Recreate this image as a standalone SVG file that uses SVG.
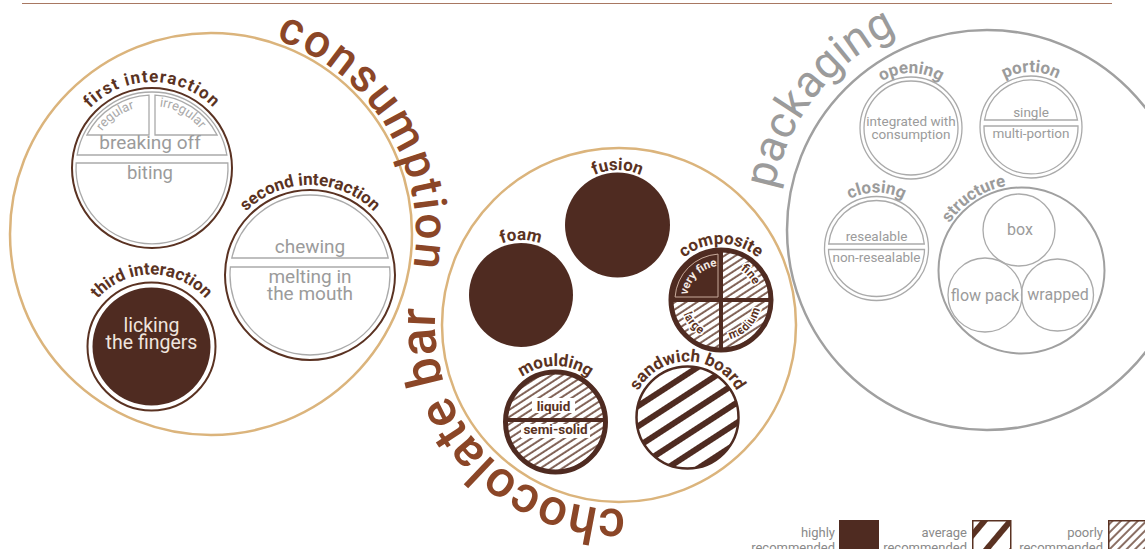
<svg xmlns="http://www.w3.org/2000/svg" width="1145" height="549" viewBox="0 0 1145 549">
<defs>
<style>
text{font-family:Roboto,"DejaVu Sans",sans-serif}
.lbl{font-weight:700;font-size:17px;fill:#5a3222}
.glbl{font-weight:700;font-size:17px;fill:#9b9b9b}
.big{font-weight:500;fill:#8b4627}
.gbig{font-weight:400;fill:#9b9b9b}
.gring{fill:none;stroke:#aaaaaa;stroke-width:1.3}
.gt{fill:#9b9b9b;text-anchor:middle}
.bring{fill:#fff;stroke:#5a3222;stroke-width:2}
.dark{fill:#4f2b21}
.mid{text-anchor:middle}
.leg{fill:#8a8a8a;font-size:13px;text-anchor:end}
.qt{font-weight:700;font-size:12px;fill:#5a3222;stroke:#fff;stroke-width:3;paint-order:stroke;text-anchor:middle}
</style>
<pattern id="hThin" width="6" height="6" patternUnits="userSpaceOnUse" patternTransform="rotate(-33)">
<rect width="6" height="6" fill="#fff"/>
<rect y="2.3" width="6" height="1.5" fill="#5a3222"/>
</pattern>
<pattern id="hThick" width="17" height="17" patternUnits="userSpaceOnUse" patternTransform="rotate(-33)">
<rect width="17" height="17" fill="#fff"/>
<rect y="5" width="17" height="6" fill="#4f2b21"/>
</pattern>
<pattern id="legThick" width="20" height="20" patternUnits="userSpaceOnUse" patternTransform="translate(972 520) rotate(-50)">
<rect width="20" height="20" fill="#fff"/>
<rect y="7" width="20" height="6" fill="#5a3222"/>
</pattern>
<pattern id="legThin" width="6" height="6" patternUnits="userSpaceOnUse" patternTransform="rotate(-45)">
<rect width="6" height="6" fill="#fff"/>
<rect y="2.3" width="6" height="1.4" fill="#5a3222"/>
</pattern>
<path id="arcCons" d="M 275.4 39.4 A 205 205 0 0 1 388.5 336.5"/>
<path id="arcChoc" d="M 625.4 508.9 A 184 184 0 0 1 459.7 233"/>
<path id="arcPack" d="M 773.8 189.3 A 217 217 0 0 1 987 13"/>
<path id="aFirst" d="M 66 168 A 86 86 0 0 1 238 168"/>
<path id="aSecond" d="M 220 275 A 90 90 0 0 1 400 275"/>
<path id="aThird" d="M 79.5 346.5 A 72 72 0 0 1 223.5 346.5"/>
<path id="aReg" d="M 92.1 152 A 62 62 0 0 1 157.4 106.2"/>
<path id="aIrr" d="M 140.2 107.1 A 62 62 0 0 1 209.9 145.8"/>
<path id="aFusion" d="M 562.5 225 A 55 55 0 0 1 672.5 225"/>
<path id="aFoam" d="M 466 295 A 55 55 0 0 1 576 295"/>
<path id="aComp" d="M 665 300 A 56 56 0 0 1 777 300"/>
<path id="aMould" d="M 499.5 422 A 56 56 0 0 1 611.5 422"/>
<path id="aSand" d="M 631.5 417.5 A 56 56 0 0 1 743.5 417.5"/>
<path id="aVF" d="M 688 308.3 A 34 34 0 0 1 730.4 267.3"/>
<path id="aFine" d="M 714.1 264.7 A 36 36 0 0 1 755 311.7"/>
<path id="aLarge" d="M 683.4 286.3 A 40 40 0 0 0 727.9 339.4"/>
<path id="aMed" d="M 710.6 338.6 A 40 40 0 0 0 759.6 289.6"/>
<path id="aOpen" d="M 856 128 A 55 55 0 0 1 966 128"/>
<path id="aPort" d="M 976 127 A 55 55 0 0 1 1086 127"/>
<path id="aClose" d="M 820.5 248.5 A 56 56 0 0 1 932.5 248.5"/>
<path id="aStruct" d="M 948.95 318.5 A 87 87 0 0 1 1094.05 222.5"/>
</defs>

<rect width="1145" height="549" fill="#fff"/>
<line x1="22" y1="3.5" x2="1112" y2="3.5" stroke="#a87862" stroke-width="1.2"/>

<g id="connectors"></g>

<g id="consumption">
<circle cx="211" cy="234" r="201" fill="none" stroke="#dbb47c" stroke-width="2.5"/>
<text class="big" font-size="46" letter-spacing="2"><textPath href="#arcCons">consumption</textPath></text>
</g>

<g id="first-interaction">
<circle cx="152" cy="168" r="80" class="bring"/>
<path class="gring" d="M 77.12 155 A 76 76 0 0 1 226.88 155 Z"/>
<path class="gring" d="M 76.16 163 A 76 76 0 1 0 227.84 163 Z"/>
<path class="gring" d="M 86.9 135 A 73 73 0 0 1 149 95.06 L 149 135 Z"/>
<path class="gring" d="M 155 95.06 A 73 73 0 0 1 217.1 135 L 155 135 Z"/>
<text font-size="13" fill="#aaa" text-anchor="middle"><textPath href="#aReg" startOffset="50%">regular</textPath></text>
<text font-size="13" fill="#aaa" text-anchor="middle"><textPath href="#aIrr" startOffset="50%">irregular</textPath></text>
<text x="150" y="149" class="gt" font-size="19">breaking off</text>
<text x="150" y="179" class="gt" font-size="18.5">biting</text>
<text class="lbl" letter-spacing="1.2" text-anchor="middle"><textPath href="#aFirst" startOffset="50%">first interaction</textPath></text>
</g>

<g id="second-interaction">
<circle cx="310" cy="275" r="85" class="bring"/>
<path class="gring" d="M 231.83 258 A 80 80 0 0 1 388.17 258 Z"/>
<path class="gring" d="M 230.4 267 A 80 80 0 1 0 389.6 267 Z"/>
<text x="310" y="253" class="gt" font-size="19">chewing</text>
<text x="310" y="283" class="gt" font-size="19">melting in</text>
<text x="310" y="300" class="gt" font-size="19">the mouth</text>
<text class="lbl" text-anchor="middle"><textPath href="#aSecond" startOffset="50%">second interaction</textPath></text>
</g>

<g id="third-interaction">
<circle cx="151.5" cy="346.5" r="64" class="bring"/>
<circle cx="151.5" cy="346.5" r="59" class="dark"/>
<text x="151.5" y="332" class="mid" font-size="19.5" fill="#efe4de">licking</text>
<text x="151.5" y="349" class="mid" font-size="19.5" fill="#efe4de">the fingers</text>
<text class="lbl" text-anchor="middle"><textPath href="#aThird" startOffset="50%">third interaction</textPath></text>
</g>

<g id="chocolate-bar">
<circle cx="619" cy="325" r="177" fill="none" stroke="#dbb47c" stroke-width="2.5"/>
<text class="big" font-size="51"><textPath href="#arcChoc">chocolate bar</textPath></text>
</g>

<g id="fusion">
<circle cx="617.5" cy="225" r="52.5" class="dark"/>
<text class="lbl" text-anchor="middle"><textPath href="#aFusion" startOffset="50%">fusion</textPath></text>
</g>

<g id="foam">
<circle cx="521" cy="295" r="52" class="dark"/>
<text class="lbl" text-anchor="middle"><textPath href="#aFoam" startOffset="50%">foam</textPath></text>
</g>

<g id="composite">
<circle cx="721" cy="300" r="50" fill="url(#hThin)"/>
<path d="M 721 300 L 671 300 A 50 50 0 0 1 721 250 Z" class="dark"/>
<path d="M 718 297 L 675.1 297 A 46 46 0 0 1 718 254.1 Z" fill="none" stroke="#c9ab9c" stroke-width="1"/>
<text font-weight="700" font-size="11.5" fill="#f3e9e4" text-anchor="middle"><textPath href="#aVF" startOffset="50%">very fine</textPath></text>
<text class="qt"><textPath href="#aFine" startOffset="50%">fine</textPath></text>
<text class="qt"><textPath href="#aLarge" startOffset="50%">large</textPath></text>
<text class="qt"><textPath href="#aMed" startOffset="50%">medium</textPath></text>
<path d="M 671 300 H 771 M 721 250 V 350" stroke="#4f2b21" stroke-width="4"/>
<circle cx="721" cy="300" r="50" fill="none" stroke="#4f2b21" stroke-width="5"/>
<text class="lbl" text-anchor="middle"><textPath href="#aComp" startOffset="50%">composite</textPath></text>
</g>

<g id="moulding">
<circle cx="555.5" cy="422" r="50" fill="url(#hThin)"/>
<rect x="532" y="398" width="43" height="15" fill="#fff"/>
<rect x="521" y="424" width="69" height="14" fill="#fff"/>
<line x1="505.5" y1="420" x2="605.5" y2="420" stroke="#4f2b21" stroke-width="4"/>
<circle cx="555.5" cy="422" r="50" fill="none" stroke="#4f2b21" stroke-width="5"/>
<text x="553.5" y="410.5" class="mid" font-weight="700" font-size="13.5" fill="#5a3222">liquid</text>
<text x="555.5" y="434" class="mid" font-weight="700" font-size="13.5" fill="#5a3222">semi-solid</text>
<text class="lbl" text-anchor="middle"><textPath href="#aMould" startOffset="50%">moulding</textPath></text>
</g>

<g id="sandwich-board">
<circle cx="687.5" cy="417.5" r="51" fill="url(#hThick)" stroke="#4f2b21" stroke-width="2.5"/>
<text class="lbl" text-anchor="middle"><textPath href="#aSand" startOffset="50%">sandwich board</textPath></text>
</g>

<g id="packaging">
<circle cx="987" cy="230" r="200" fill="none" stroke="#a0a0a0" stroke-width="2.5"/>
<text class="gbig" font-size="45"><textPath href="#arcPack">packaging</textPath></text>
</g>

<g id="opening">
<circle cx="911" cy="128" r="51" class="gring"/>
<circle cx="911" cy="128" r="47" class="gring"/>
<text x="911" y="126" class="gt" font-size="13.5">integrated with</text>
<text x="911" y="139" class="gt" font-size="13.5">consumption</text>
<text class="glbl" text-anchor="middle"><textPath href="#aOpen" startOffset="50%">opening</textPath></text>
</g>

<g id="portion">
<circle cx="1031" cy="127" r="51" class="gring"/>
<path class="gring" d="M 984.52 120 A 47 47 0 0 1 1077.48 120 Z"/>
<path class="gring" d="M 984.01 126 A 47 47 0 1 0 1077.99 126 Z"/>
<text x="1031" y="117" class="gt" font-size="13.5">single</text>
<text x="1031" y="138" class="gt" font-size="13.5">multi-portion</text>
<text class="glbl" text-anchor="middle"><textPath href="#aPort" startOffset="50%">portion</textPath></text>
</g>

<g id="closing">
<circle cx="876.5" cy="248.5" r="52" class="gring"/>
<path class="gring" d="M 828.71 244 A 48 48 0 0 1 924.29 244 Z"/>
<path class="gring" d="M 828.51 249.5 A 48 48 0 0 0 924.49 249.5 Z"/>
<text x="876.5" y="241" class="gt" font-size="13.5">resealable</text>
<text x="876.5" y="262" class="gt" font-size="13.5">non-resealable</text>
<text class="glbl" text-anchor="middle"><textPath href="#aClose" startOffset="50%">closing</textPath></text>
</g>

<g id="structure">
<circle cx="1021.5" cy="270.5" r="83" fill="none" stroke="#a0a0a0" stroke-width="2"/>
<text class="glbl" text-anchor="middle"><textPath href="#aStruct" startOffset="50%">structure</textPath></text>
</g>
<g id="box">
<circle cx="1019" cy="230" r="36" class="gring"/>
<text x="1020" y="235" class="gt" font-size="16">box</text>
</g>
<g id="flow-pack">
<circle cx="985" cy="295" r="37" class="gring"/>
<text x="985" y="301" class="gt" font-size="16">flow pack</text>
</g>
<g id="wrapped">
<circle cx="1057.5" cy="295" r="36" class="gring"/>
<text x="1058" y="300" class="gt" font-size="16">wrapped</text>
</g>

<g id="legend">
<text x="835" y="537" class="leg">highly</text>
<text x="835" y="552" class="leg">recommended</text>
<rect x="839" y="520" width="40" height="40" class="dark"/>
<text x="967" y="537" class="leg">average</text>
<text x="967" y="552" class="leg">recommended</text>
<rect x="972.75" y="520.75" width="38" height="40" fill="url(#legThick)" stroke="#5a3222" stroke-width="1.5"/>
<text x="1103" y="537" class="leg">poorly</text>
<text x="1103" y="552" class="leg">recommended</text>
<rect x="1108.75" y="520.75" width="38" height="40" fill="url(#legThin)" stroke="#5a3222" stroke-width="1.5"/>
</g>
</svg>
